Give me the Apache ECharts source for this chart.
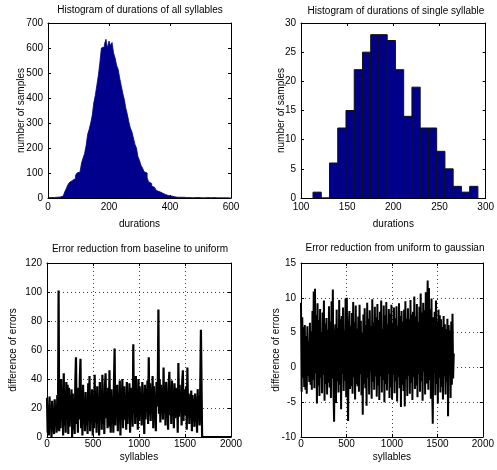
<!DOCTYPE html>
<html>
<head>
<meta charset="utf-8">
<script src="https://cdn.jsdelivr.net/npm/echarts@6/dist/echarts.min.js"></script>
<style>html,body{margin:0;padding:0;background:#fff;}#c{width:497px;height:470px;}</style>
</head>
<body>
<div id="c"></div>
<script>
// ---------- DATA ----------
const titles = [
  'Histogram of durations of all syllables',
  'Histogram of durations of single syllable',
  'Error reduction from baseline to uniform',
  'Error reduction from uniform to gaussian'
];
// histogram of all syllables: bins of width 5 starting at 0
const allBinStart = 0;
const allBinWidth = 5;
const allCounts = [2,2,3,2,3,3,3,4,5,8,
  14,25,38,52,62,70,75,78,90,100,
  104,108,140,160,178,210,255,275,300,330,
  380,410,450,490,540,600,605,615,635,600,
  628,610,622,580,560,530,515,480,450,420,
  395,360,335,305,280,265,240,215,200,165,
  150,130,120,105,100,80,65,58,48,42,
  35,30,26,24,20,17,14,12,10,9,
  8,6,5,4,3,3,3,2,3,2,
  2,2,2,2,1,2,2,1,2,1,
  1,2,1,1,2,1,1,1,2,1,
  1,1,1,2,1,1,1,2,1,0];
// histogram of a single syllable
const singleBinStart = 113;
const singleBinWidth = 8.93;
const singleCounts = [1,0,6,12,15,22,25,28,28,27,22,14,19,12,12,8,5,2,1,2];

// error reduction series, sampled every 7 syllables
const sampleStep = 7;
const baselineToUniform = [
  27,3,22,1,28,6,18,0,25,4,20,2,26,9,19,3,29,5,101,4,
  35,6,40,12,33,1,44,8,30,3,38,14,36,2,34,7,29,10,33,0,
  30,5,26,2,38,55,9,22,3,34,12,40,54,6,28,1,36,10,25,4,
  31,8,24,2,37,11,42,4,29,13,33,1,27,6,43,10,30,3,35,9,
  26,1,38,12,32,5,43,9,28,2,36,44,13,30,6,34,7,46,15,3,
  33,10,27,3,38,61,8,31,14,36,4,29,11,39,1,33,15,40,6,28,
  35,12,26,5,38,9,31,15,37,3,34,13,29,7,64,16,36,9,42,14,
  32,5,40,11,35,17,30,8,38,14,28,2,36,12,33,19,39,9,55,15,
  37,11,31,18,42,6,35,14,29,4,38,21,33,88,16,40,10,36,19,30,
  12,48,17,34,8,38,20,31,5,36,45,15,33,9,39,21,30,6,37,13,
  34,18,29,3,51,14,36,20,31,8,38,46,11,33,22,15,35,5,48,17,
  30,9,28,16,32,4,29,13,26,7,30,11,27,3,33,14,28,8,35,74];
const baselineTail = [[1680, 35], [1686, 0], [2000, 0]];
const uniformToGaussian = [
  9.3,-3.5,7.2,-1.5,5.8,-2.8,6.1,-3.2,4.5,-3.8,5.9,-1.2,3.8,-2.1,6.4,-2.5,5.2,-3.2,8.1,-1.8,
  10.9,-3.0,11.3,-0.8,7.5,-5.2,9.2,-2.6,6.8,-4.1,8.4,-1.5,5.1,-3.7,7.9,-1.1,9.6,-4.8,6.3,-2.4,
  7.1,-3.9,5.4,-2.2,8.8,-2.9,6.6,-4.4,9.5,-1.6,11.2,-3.3,-7.8,4.1,6.2,-5.1,8.3,-2.0,5.7,-3.6,
  9.7,-2.5,6.9,-6.0,7.4,-0.9,8.6,-3.4,5.3,-1.9,9.9,-4.3,10.0,-1.8,-7.7,5.2,8.1,-3.1,6.0,-2.7,
  7.8,-3.8,9.4,-1.4,6.5,-4.6,8.9,-2.4,5.6,-2.7,7.3,-3.5,9.0,-1.0,6.7,-4.0,5.0,-6.8,7.6,-2.3,
  8.5,-3.0,6.1,-5.5,9.3,-1.5,7.0,-3.9,8.2,-0.6,5.9,-4.5,9.8,-2.1,6.4,-3.2,8.7,-1.3,7.2,-4.2,
  9.1,-2.6,6.8,-4.7,8.0,-1.3,9.6,-3.6,5.5,-1.8,8.9,-5.0,7.5,-2.4,9.4,-3.3,6.2,-0.9,8.4,-4.4,
  7.7,-2.9,9.0,-4.6,6.3,-1.1,8.6,-3.7,7.1,-2.0,8.8,-4.9,6.0,-1.4,9.2,-3.0,7.4,-5.7,8.1,-2.5,
  6.6,-3.4,8.3,-5.6,9.5,-1.7,7.0,-4.1,8.5,-1.2,6.9,-3.8,9.7,-2.2,7.6,-4.7,8.0,-1.4,10.2,-3.1,
  7.3,-2.6,9.1,-4.3,6.5,-1.0,8.7,-3.5,10.6,-2.0,7.9,-4.8,9.3,-0.6,8.2,-3.9,10.8,-2.3,6.8,12.5,
  -3.2,11.4,-1.8,8.4,-4.5,9.9,-2.7,-8.1,7.2,-0.8,8.0,-4.0,9.6,-2.4,6.7,-5.2,8.3,-1.5,7.5,-3.6,
  6.9,-2.8,5.8,-4.6,7.4,-1.3,6.2,-3.9,5.5,-2.1,7.0,-7.0,6.1,-0.9,5.3,-4.4,6.6,-2.5,7.7,-1.6];
const gaussianTail = [[1680, 2.0]];

// axis ranges
const axesX = [
  {min: 0, max: 600, interval: 200, name: 'durations'},
  {min: 100, max: 300, interval: 50, name: 'durations'},
  {min: 0, max: 2000, interval: 500, name: 'syllables'},
  {min: 0, max: 2000, interval: 500, name: 'syllables'}
];
const axesY = [
  {min: 0, max: 700, interval: 100, name: 'number of samples'},
  {min: 0, max: 30, interval: 5, name: 'number of samples'},
  {min: 0, max: 120, interval: 20, name: 'difference of errors'},
  {min: -10, max: 15, interval: 5, name: 'difference of errors'}
];

// ---------- CHART ----------
const FONT = "'Liberation Sans', Arial, Helvetica, sans-serif";
const grids = [
  {left: 48, top: 23, width: 183, height: 175},
  {left: 301, top: 23, width: 185, height: 175},
  {left: 47, top: 263, width: 184, height: 174},
  {left: 301, top: 263, width: 185, height: 174}
];
const titlePos = [[140, 5], [396, 6], [140, 244], [395, 243]];
const yNameGap = [22, 15, 29, 20];
const xNameGap = [21, 21, 15, 15];
const xLabelMargin = [4, 4, 2, 2];
const gridLines = [false, false, true, true];

const xAxis = [], yAxis = [];
for (let i = 0; i < 4; i++) {
  const common = {
    type: 'value', gridIndex: i,
    axisLine: {show: true, onZero: false, lineStyle: {color: '#000', width: 1}},
    axisTick: {show: true, inside: true, length: 3, lineStyle: {color: '#000'}},
    axisLabel: {color: '#000', fontSize: 10, fontFamily: FONT, margin: 5,
      formatter: function (v) { return String(v); }},
    nameTextStyle: {color: '#000', fontSize: 10, fontFamily: FONT},
    nameMoveOverlap: false
  };
  xAxis.push(Object.assign({}, common, {
    min: axesX[i].min, max: axesX[i].max, interval: axesX[i].interval,
    name: axesX[i].name, nameLocation: 'middle', nameGap: xNameGap[i],
    axisLabel: Object.assign({}, common.axisLabel, {margin: xLabelMargin[i]}),
    splitLine: {show: gridLines[i], lineStyle: {color: '#444', type: [1, 3], width: 1}},
  }));
  xAxis.push(Object.assign({}, common, {
    position: 'top', min: axesX[i].min, max: axesX[i].max, interval: axesX[i].interval,
    axisLabel: {show: false}, splitLine: {show: false}
  }));
  yAxis.push(Object.assign({}, common, {
    min: axesY[i].min, max: axesY[i].max, interval: axesY[i].interval,
    name: axesY[i].name, nameLocation: 'middle', nameGap: yNameGap[i],
    splitLine: {show: gridLines[i], lineStyle: {color: '#444', type: [1, 3], width: 1}},
  }));
  yAxis.push(Object.assign({}, common, {
    position: 'right', min: axesY[i].min, max: axesY[i].max, interval: axesY[i].interval,
    axisLabel: {show: false}, splitLine: {show: false}
  }));
}

function histData(start, width, counts) {
  return counts.map((c, k) => [start + k * width, start + (k + 1) * width, c]);
}
function stepData(start, width, counts) {
  const d = counts.map((c, k) => [start + k * width, c]);
  d.push([start + counts.length * width, counts[counts.length - 1]]);
  return d;
}
function makeRender(fill, stroke, lw) {
  return function (params, api) {
    const x0 = api.value(0), x1 = api.value(1), y = api.value(2);
    const p0 = api.coord([x0, y]);
    const p1 = api.coord([x1, 0]);
    return {
      type: 'rect',
      shape: {x: p0[0], y: p0[1], width: p1[0] - p0[0], height: p1[1] - p0[1]},
      style: {fill: fill, stroke: stroke, lineWidth: lw}
    };
  };
}
function lineData(vals, tail) {
  const d = vals.map((v, k) => [k * sampleStep, v]);
  return d.concat(tail);
}

const option = {
  backgroundColor: '#fff',
  animation: false,
  title: titles.map((t, i) => ({
    text: t, left: titlePos[i][0], top: titlePos[i][1], textAlign: 'center', padding: 0,
    textStyle: {fontSize: 10, fontWeight: 'normal', color: '#000', fontFamily: FONT}
  })),
  grid: grids,
  xAxis: xAxis,
  yAxis: yAxis,
  series: [
    {
      type: 'line', xAxisIndex: 0, yAxisIndex: 0, step: 'end', symbol: 'none',
      lineStyle: {color: '#00008c', width: 0.8},
      areaStyle: {color: '#00008c', opacity: 1},
      data: stepData(allBinStart, allBinWidth, allCounts)
    },
    {
      type: 'custom', xAxisIndex: 2, yAxisIndex: 2,
      renderItem: makeRender('#00008c', '#111', 1),
      encode: {x: [0, 1], y: 2},
      data: histData(singleBinStart, singleBinWidth, singleCounts)
    },
    {
      type: 'line', xAxisIndex: 4, yAxisIndex: 4, symbol: 'none',
      lineStyle: {color: '#000', width: 2.2}, data: lineData(baselineToUniform, baselineTail)
    },
    {
      type: 'line', xAxisIndex: 6, yAxisIndex: 6, symbol: 'none',
      lineStyle: {color: '#000', width: 2.0}, data: lineData(uniformToGaussian, gaussianTail)
    }
  ]
};
const chart = echarts.init(document.getElementById('c'), null, {renderer: 'canvas'});
chart.setOption(option);
</script>
</body>
</html>
